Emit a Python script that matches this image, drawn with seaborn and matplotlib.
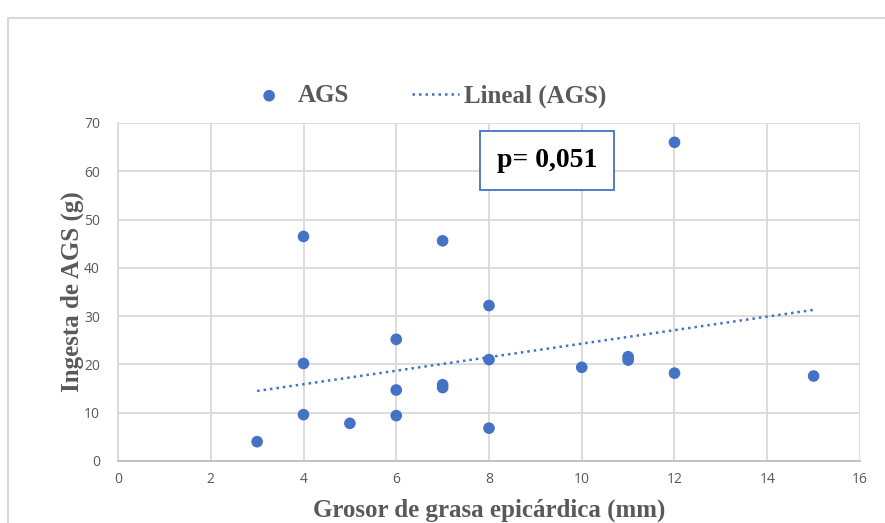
import matplotlib.pyplot as plt
import matplotlib.patches as patches
import pandas as pd
import seaborn as sns

# Data
grosor = [3, 4, 4, 4, 5, 6, 6, 6, 7, 7, 7, 8, 8, 8, 10, 11, 11, 12, 12, 15]
ags = [4.0, 46.5, 20.2, 9.6, 7.8, 25.2, 14.7, 9.4, 45.6, 15.8, 15.2,
       32.2, 21.0, 6.8, 19.4, 21.6, 20.9, 66.0, 18.2, 17.6]
# Excel linear trend line, end points
trend_x = [3, 15]
trend_y = [14.5, 31.3]
x_ticks = [0, 2, 4, 6, 8, 10, 12, 14, 16]
y_ticks = [0, 10, 20, 30, 40, 50, 60, 70]

df = pd.DataFrame({'grosor': grosor, 'ags': ags})
df_trend = pd.DataFrame({'x': trend_x, 'y': trend_y})

sns.set_theme(style='whitegrid')
plt.rcParams['font.family'] = ['Open Sans', 'DejaVu Sans']

blue = '#4472C4'
grey_txt = '#595959'
grid_c = '#D9D9D9'

fig = plt.figure(figsize=(8.85, 5.23), dpi=100)
ax = fig.add_axes([118 / 885, 1 - 461 / 523, (860 - 118) / 885, (461 - 123) / 523])

sns.scatterplot(data=df, x='grosor', y='ags', color=blue, s=70, edgecolor='none',
                label='AGS', ax=ax, zorder=3)
sns.lineplot(data=df_trend, x='x', y='y', color=blue, linestyle=(0, (1, 1.6)),
             linewidth=1.8, label='Lineal (AGS)', ax=ax, zorder=2)

ax.set_xlim(0, 16)
ax.set_ylim(0, 70)
ax.set_xticks(x_ticks)
ax.set_yticks(y_ticks)
ax.grid(True, color=grid_c, linewidth=1.3)
for s in ['top', 'right']:
    ax.spines[s].set_visible(False)
ax.spines['left'].set_color(grid_c)
ax.spines['bottom'].set_color('#BFBFBF')
ax.spines['left'].set_linewidth(1.3)
ax.spines['bottom'].set_linewidth(1.3)
ax.tick_params(axis='both', length=0, labelsize=10, labelcolor=grey_txt)
ax.tick_params(axis='y', pad=13)
ax.tick_params(axis='x', pad=8)

serif = {'family': 'Liberation Serif', 'weight': 'bold', 'size': 18, 'color': grey_txt}
ax.set_xlabel('Grosor de grasa epicárdica (mm)', fontdict=serif, labelpad=8)
ax.set_ylabel('Ingesta de AGS (g)', fontdict=serif, labelpad=0)

leg = ax.legend(loc='center', bbox_to_anchor=(426 / 885, 1 - 96 / 523),
                bbox_transform=fig.transFigure, ncol=2, frameon=False,
                prop={'family': 'Liberation Serif', 'weight': 'bold', 'size': 18},
                columnspacing=2.5, handlelength=1.9, handletextpad=0.2)
for t in leg.get_texts():
    t.set_color(grey_txt)

ax.text(9.25, 62.2, 'p= 0,051', ha='center', va='center',
        fontfamily='Liberation Serif', fontweight='bold', fontsize=20, color='black',
        bbox=dict(boxstyle='square,pad=0.6', facecolor='white', edgecolor=blue, linewidth=1.3),
        zorder=5)

# outer chart frame
fig.patches.append(patches.Rectangle((8 / 885, -0.05), 1.2, 1 - 18 / 523 + 0.05,
                                     transform=fig.transFigure, fill=False,
                                     edgecolor='#D9D9D9', linewidth=1.5))

fig.savefig('out.png', dpi=100)
